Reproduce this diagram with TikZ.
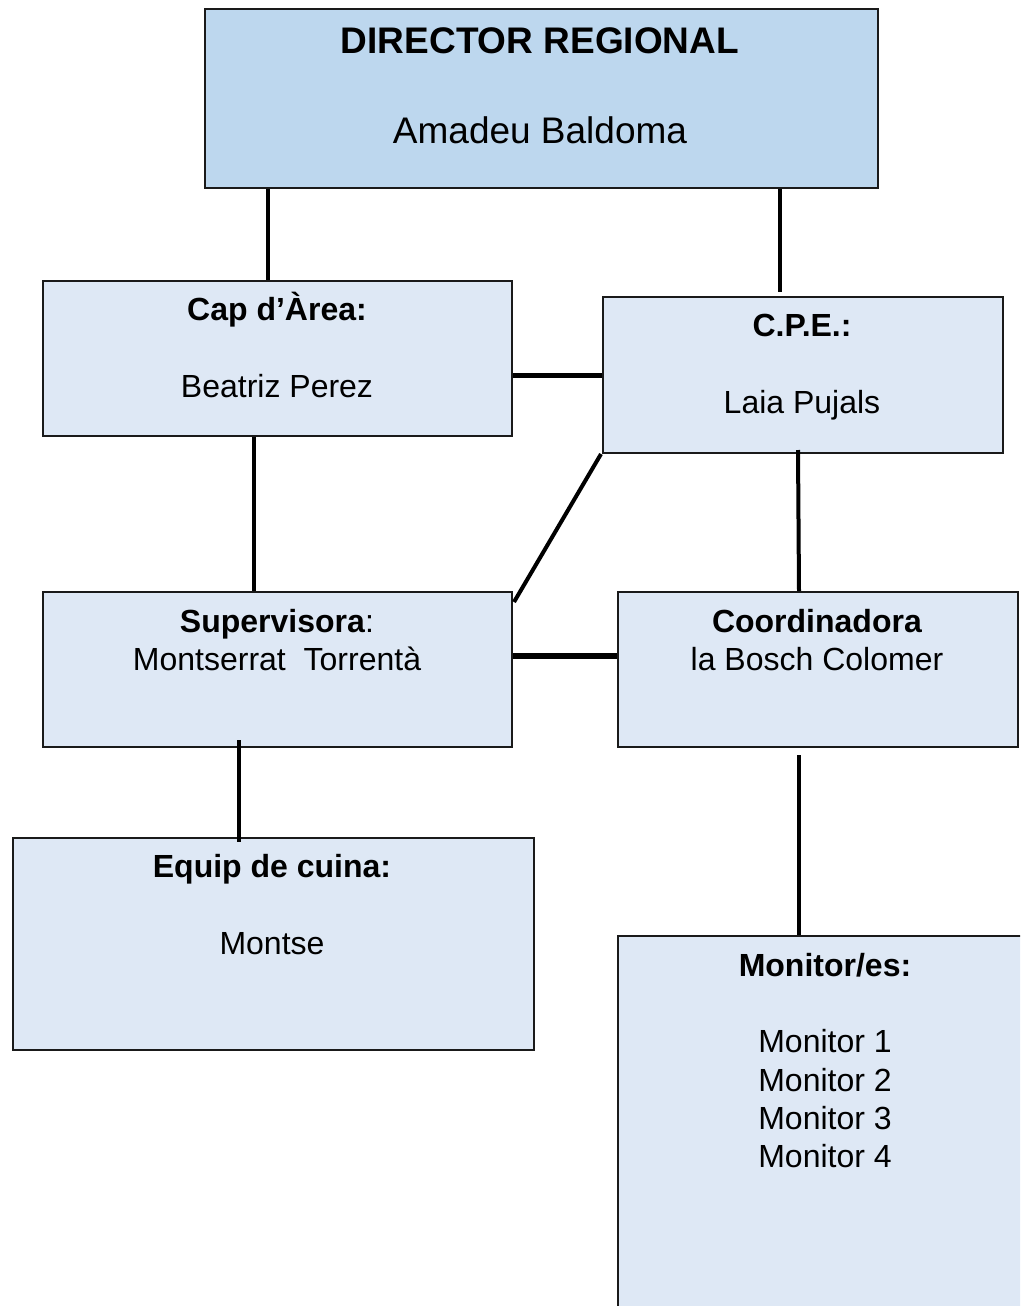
\documentclass[tikz,border=0pt]{standalone}
\usepackage{fontspec}
\setmainfont{Liberation Sans}
\usetikzlibrary{calc}
\definecolor{dirfill}{HTML}{BDD7EE}
\definecolor{boxfill}{HTML}{DEE8F5}
\definecolor{edge}{HTML}{1A1A1A}
\tikzset{
  box/.style={draw=edge, line width=2pt, rectangle, inner sep=0pt, anchor=north west},
  bigtxt/.style={anchor=base, inner sep=0pt, font=\fontsize{37}{44}\selectfont},
  txt/.style={anchor=base, inner sep=0pt, font=\fontsize{32}{38.5}\selectfont},
  link/.style={draw=black, line width=4pt},
  hlink/.style={draw=black, line width=6pt}
}
\begin{document}
\begin{tikzpicture}[x=1pt,y=-1pt]
\useasboundingbox (0,0) rectangle (1020,1306);
\clip (0,0) rectangle (1020,1306);
% boxes
\node[box, fill=dirfill, minimum width=673pt, minimum height=179pt] (dir) at (204,8) {};
\node[box, fill=boxfill, minimum width=469pt, minimum height=155pt] (cap) at (42,280) {};
\node[box, fill=boxfill, minimum width=400pt, minimum height=156pt] (cpe) at (602,296) {};
\node[box, fill=boxfill, minimum width=469pt, minimum height=155pt] (sup) at (42,591) {};
\node[box, fill=boxfill, minimum width=400pt, minimum height=155pt] (coord) at (617,591) {};
\node[box, fill=boxfill, minimum width=521pt, minimum height=212pt] (equip) at (12,837) {};
\node[box, fill=boxfill, minimum width=420pt, minimum height=420pt] (mon) at (617,935) {};
% texts
\node[bigtxt] (t1) at (540,53) {\textbf{DIRECTOR REGIONAL}};
\node[bigtxt] (t2) at (540,143) {Amadeu Baldoma};
\node[txt] (t3) at (277,320) {\textbf{Cap d’Àrea:}};
\node[txt] (t4) at (277,397) {Beatriz Perez};
\node[txt] (t5) at (802,336) {\textbf{C.P.E.:}};
\node[txt] (t6) at (802,413) {Laia Pujals};
\node[txt] (t7) at (277,632) {\textbf{Supervisora}:};
\node[txt] (t8) at (277,670) {Montserrat\ \ Torrentà};
\node[txt] (t9) at (817,632) {\textbf{Coordinadora}};
\node[txt] (t10) at (817,670) {la Bosch Colomer};
\node[txt] (t11) at (272,877) {\textbf{Equip de cuina:}};
\node[txt] (t12) at (272,954) {Montse};
\node[txt] (t13) at (825,976) {\textbf{Monitor/es:}};
\node[txt] (t14) at (825,1052) {Monitor 1};
\node[txt] (t15) at (825,1091) {Monitor 2};
\node[txt] (t16) at (825,1129) {Monitor 3};
\node[txt] (t17) at (825,1167) {Monitor 4};
% connector x positions
\coordinate (xa) at (268,0);
\coordinate (xb) at (780,0);
\coordinate (xc) at (254,0);
\coordinate (xd) at (239,0);
\coordinate (xe) at (799,0);
\coordinate (ya) at (0,375);
\coordinate (yb) at (0,656);
% connectors
\draw[link] (dir.south -| xa) -- (cap.north -| xa);
\draw[link] (dir.south -| xb) -- ($(cpe.north -| xb)+(0,-4)$);
\draw[hlink, line width=5pt] (cap.east |- ya) -- (cpe.west |- ya);
\draw[link] (cap.south -| xc) -- (sup.north -| xc);
\draw[link] ($(cpe.south west)+(-1,0)$) -- ($(sup.north east)+(1,11)$);
\draw[link] ($(cpe.south)+(-5,-4)$) -- ($(coord.north)+(-19,0)$);
\draw[hlink] (sup.east |- yb) -- (coord.west |- yb);
\draw[link] ($(sup.south -| xd)+(0,-8)$) -- ($(equip.north -| xd)+(0,5)$);
\draw[link] ($(coord.south -| xe)+(0,7)$) -- (mon.north -| xe);
\end{tikzpicture}
\end{document}
